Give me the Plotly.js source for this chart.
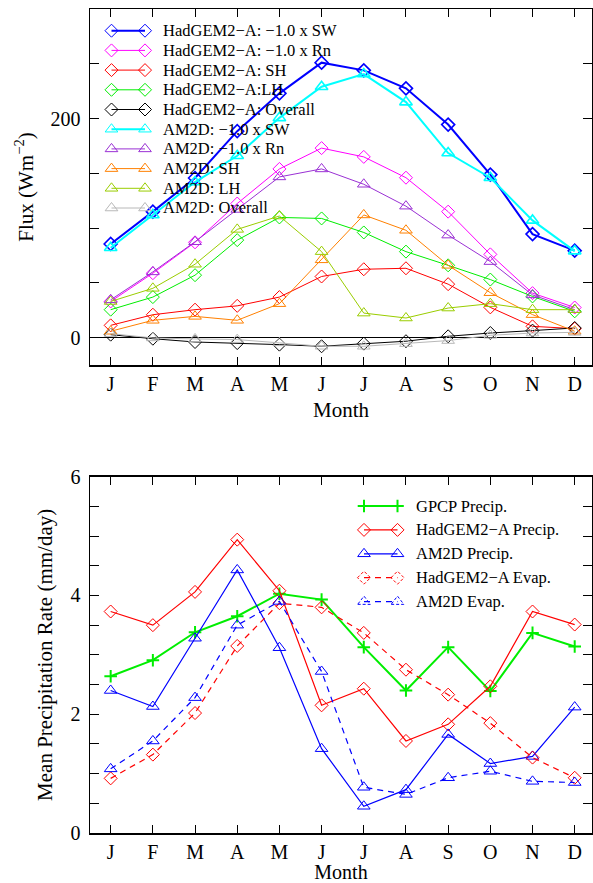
<!DOCTYPE html>
<html>
<head>
<meta charset="utf-8">
<script src="https://cdn.plot.ly/plotly-3.0.1.min.js"></script>
<style>html,body{margin:0;padding:0;background:#fff}#chart{width:593px;height:883px}</style>
</head>
<body>
<div id="chart"></div>
<script>
// ---------- data ----------
const months = [1,2,3,4,5,6,7,8,9,10,11,12];
const monthLabels = ['J','F','M','A','M','J','J','A','S','O','N','D'];

// top panel: fluxes (W m-2)
const hadSW  = [85.5,115,145.7,188.5,223,251,244,227.6,194.5,148.8,94.5,79.4];
const hadRn  = [33,58.8,87,122.4,154,173,165,146,115,76,40.6,27.5];
const hadSH  = [11.2,20.9,25.5,29,37,55.8,62.4,63.3,48.8,27.6,10.3,8.2];
const hadLH  = [25.5,37,57,89,109.7,108.8,96,78.5,66,53,37.6,24];
const hadAll = [2.7,-1,-4,-5,-6.4,-7.9,-5.5,-3.3,1.2,4.2,6.4,8.8];
const am2SW  = [82,112,142,166,200.6,229,240.6,215,168.5,146,107,79];
const am2Rn  = [34.5,60,87.5,117,146.7,154,140,120,93.6,69.4,39,25.5];
const am2SH  = [5.8,15.8,19.4,15.8,31,71,112,98,66,41,21,5.8];
const am2LH  = [33,45,67,98.8,111,78.5,22.4,17.9,27,31,25.5,25.5];
const am2All = [3.6,-0.3,-1.2,-1.8,-4.8,-7.9,-7.9,-5.5,-2.7,2.1,4.2,4.8];
const topNames = ['HadGEM2\u2212A: \u22121.0 x SW','HadGEM2\u2212A: \u22121.0 x Rn','HadGEM2\u2212A: SH','HadGEM2\u2212A:LH','HadGEM2\u2212A: Overall',
                  'AM2D: \u22121.0 x SW','AM2D: \u22121.0 x Rn','AM2D: SH','AM2D: LH','AM2D: Overall'];

// bottom panel: precipitation / evaporation (mm/day)
const gpcpP = [2.64,2.91,3.38,3.65,4.03,3.93,3.13,2.40,3.13,2.39,3.37,3.14];
const hadP  = [3.73,3.50,4.06,4.94,4.08,2.15,2.43,1.55,1.83,2.47,3.73,3.51];
const am2P  = [2.40,2.13,3.28,4.43,3.12,1.42,0.45,0.73,1.66,1.17,1.29,2.12];
const hadE  = [0.92,1.32,2.02,3.15,3.87,3.80,3.37,2.75,2.33,1.85,1.27,0.93];
const am2E  = [1.08,1.55,2.28,3.50,3.90,2.72,0.77,0.65,0.93,1.04,0.87,0.85];
const botNames = ['GPCP Precip.','HadGEM2\u2212A Precip.','AM2D Precip.','HadGEM2\u2212A Evap.','AM2D Evap.'];

// ---------- styles ----------
const topSeries = [
  {y: hadSW,  color:'#0000FF', w:2,   sym:'diamond'},
  {y: hadRn,  color:'#FF00FF', w:1,   sym:'diamond'},
  {y: hadSH,  color:'#FF0000', w:1,   sym:'diamond'},
  {y: hadLH,  color:'#00EE00', w:1,   sym:'diamond'},
  {y: hadAll, color:'#000000', w:1,   sym:'diamond'},
  {y: am2SW,  color:'#00FFFF', w:2,   sym:'triangle'},
  {y: am2Rn,  color:'#9A30D4', w:1,   sym:'triangle'},
  {y: am2SH,  color:'#FF8000', w:1,   sym:'triangle'},
  {y: am2LH,  color:'#9ACD00', w:1,   sym:'triangle'},
  {y: am2All, color:'#B8B8B8', w:1,   sym:'triangle'}
];
const botSeries = [
  {y: gpcpP, color:'#00EE00', w:2,   sym:'plus',     dash:'solid'},
  {y: hadP,  color:'#FF0000', w:1.2, sym:'diamond',  dash:'solid'},
  {y: am2P,  color:'#0000FF', w:1.2, sym:'triangle', dash:'solid'},
  {y: hadE,  color:'#FF0000', w:1.2, sym:'diamond',  dash:'6px,5px'},
  {y: am2E,  color:'#0000FF', w:1.2, sym:'triangle', dash:'6px,5px'}
];
const symMap = {diamond:'diamond-open', triangle:'triangle-up-open', plus:'cross-thin-open'};
const sizeMap = {diamond:10, triangle:11, plus:9};

const traces = [];
topSeries.forEach((s,i) => traces.push({
  x: months, y: s.y, name: topNames[i], type:'scatter', mode:'lines+markers',
  xaxis:'x', yaxis:'y', line:{color:s.color, width:s.w},
  marker:{symbol:symMap[s.sym], size:sizeMap[s.sym], color:s.color, line:{color:s.color, width:s.w===2?1.6:1}},
  cliponaxis:false
}));
botSeries.forEach((s,i) => traces.push({
  x: months, y: s.y, name: botNames[i], type:'scatter', mode:'lines+markers',
  xaxis:'x2', yaxis:'y2', line:{color:s.color, width:s.w, dash:s.dash},
  marker:{symbol:symMap[s.sym], size:sizeMap[s.sym], color:s.color, line:{color:s.color, width:s.sym==='plus'?2:1}},
  cliponaxis:false
}));

// ---------- geometry (pixel -> paper) ----------
const W = 593, H = 883, ML = 90, MR = 1, MT = 9, MB = 50;
const PW = W - ML - MR, PH = H - MT - MB;
const px = p => (p - ML) / PW;
const py = p => (H - MB - p) / PH;

// ---------- hand-made legends (markers at both ends of the sample line) ----------
const shapes = [], annotations = [];
function markerPath(sym, cx, cy) {
  if (sym === 'plus') {
    const h = 6.3;
    return `M${px(cx-h)},${py(cy)} L${px(cx+h)},${py(cy)} M${px(cx)},${py(cy-h)} L${px(cx)},${py(cy+h)}`;
  }
  let pts;
  if (sym === 'diamond') { const h = 6.5; pts = [[cx-h,cy],[cx,cy-h],[cx+h,cy],[cx,cy+h]]; }
  else { const r = 5.5, rt = r*2/Math.sqrt(3); pts = [[cx-rt,cy+r/2],[cx+rt,cy+r/2],[cx,cy-r]]; }
  return 'M' + pts.map(p => px(p[0]) + ',' + py(p[1])).join(' L') + ' Z';
}
function legendBlock(series, names, o) {
  series.forEach((s,i) => {
    const cy = o.y0 + i*o.dy;
    const dash = s.dash || 'solid';
    shapes.push({type:'line', xref:'paper', yref:'paper', x0:px(o.m0), x1:px(o.m1), y0:py(cy), y1:py(cy),
                 line:{color:s.color, width:s.w, dash:dash}});
    [o.m0, o.m1].forEach(mx => shapes.push({type:'path', xref:'paper', yref:'paper', path:markerPath(s.sym, mx, cy),
                 line:{color:s.color, width:s.sym==='plus'?2:1, dash:dash==='solid'?'solid':'3px,2px'}}));
    annotations.push({xref:'paper', yref:'paper', x:px(o.tx), y:py(cy), xanchor:'left', yanchor:'middle',
                 text:names[i], showarrow:false, font:{size:o.fs, color:'#000'}});
  });
}
legendBlock(topSeries, topNames, {y0:30.7, dy:19.7, m0:111.5, m1:145, tx:161, fs:16.5});
legendBlock(botSeries, botNames, {y0:506, dy:23.9, m0:364, m1:397.5, tx:414, fs:16.5});

// ---------- axes ----------
const xBase = {
  range:[0.51,12.41], tickvals:months, ticktext:monthLabels, ticks:'inside', ticklen:8, tickwidth:1,
  tickcolor:'#000', showline:true, linecolor:'#000', linewidth:1.5, mirror:'ticks', showgrid:false, zeroline:false,
  tickfont:{size:20}, fixedrange:true
};
const yBase = {
  ticks:'inside', ticklen:9, tickwidth:1, tickcolor:'#000', showline:true, linecolor:'#000', linewidth:1.5,
  mirror:'ticks', showgrid:false, tickfont:{size:20}, ticklabelstandoff:4, fixedrange:true
};
const topBottomPaper = py(365), botTopPaper = py(476.7);

const layout = {
  width:W, height:H, margin:{l:ML, r:MR, t:MT, b:MB}, showlegend:false,
  paper_bgcolor:'#fff', plot_bgcolor:'#fff',
  font:{family:'"Liberation Serif", "Times New Roman", Times, serif', size:20, color:'#000'},
  xaxis: Object.assign({}, xBase, {anchor:'y', domain:[0,1], title:{text:'Month', font:{size:21}, standoff:9}}),
  yaxis: Object.assign({}, yBase, {anchor:'x', domain:[topBottomPaper,1], range:[-25,300],
          tickvals:[0,200], zeroline:true, zerolinecolor:'#000', zerolinewidth:1,
          minor:{tick0:0, dtick:50, ticks:'inside', ticklen:9, tickcolor:'#000', showgrid:false},
          title:{text:'Flux (Wm<sup>\u22122</sup>)', font:{size:21}, standoff:11}}),
  xaxis2: Object.assign({}, xBase, {anchor:'y2', domain:[0,1], title:{text:'Month', font:{size:20}, standoff:12}}),
  yaxis2: Object.assign({}, yBase, {anchor:'x2', domain:[0,botTopPaper], range:[0,6],
          tickvals:[0,2,4,6], zeroline:false,
          minor:{tick0:0, dtick:0.5, ticks:'inside', ticklen:9, tickcolor:'#000', showgrid:false},
          title:{text:'Mean Precipitation Rate (mm/day)', font:{size:21}, standoff:12}}),
  shapes: shapes, annotations: annotations
};

Plotly.newPlot('chart', traces, layout, {displayModeBar:false, staticPlot:true});
</script>
</body>
</html>
